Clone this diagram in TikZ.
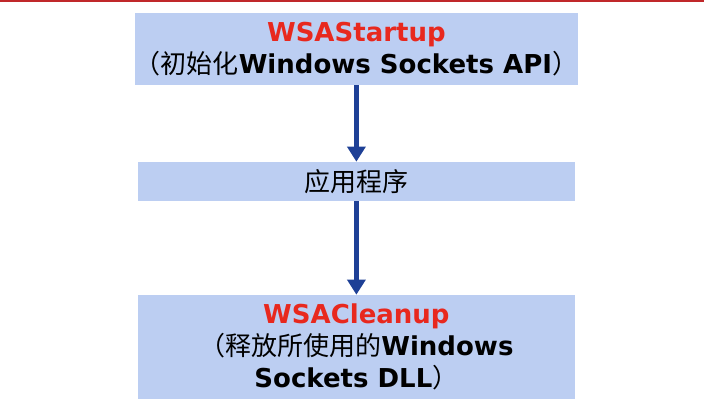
\documentclass[tikz,border=0pt]{standalone}
\usepackage{fontspec}
\setmainfont{DejaVu Sans}
\newfontfamily\cjk{Noto Sans CJK SC}
\usetikzlibrary{arrows.meta}

\definecolor{boxfill}{RGB}{188,206,242}
\definecolor{flowblue}{RGB}{30,64,150}
\definecolor{apired}{RGB}{232,40,30}
\definecolor{slidered}{RGB}{192,40,42}

\begin{document}
\begin{tikzpicture}[
  font=\fontsize{18.5}{22.8}\selectfont,
  >={Triangle[length=0.38cm,width=0.45cm]},
  stage/.style={fill=boxfill, draw=none, align=center, minimum width=10.925cm, inner sep=0pt},
  flow/.style={->, draw=flowblue, line width=4pt}
]
\useasboundingbox (0,0) rectangle (17.6,-10.325);
\fill[slidered] (0,0) rectangle (17.6,-0.05);

\node[stage, minimum height=1.8cm] (init) at (8.91,-1.225)
  {\textcolor{apired}{\bfseries WSAStartup}\\ {\cjk （初始化}\textbf{Windows Sockets API}{\cjk ）}};
\node[stage, minimum height=0.975cm] (app) at (8.91,-4.5375) {\cjk 应用程序};
\node[stage, minimum height=2.6cm] (clean) at (8.91,-8.675)
  {\textcolor{apired}{\bfseries WSACleanup}\\ {\cjk （释放所使用的}\textbf{Windows}\\ \textbf{Sockets DLL}{\cjk ）}};

\draw[flow] (init) -- (app);
\draw[flow] (app) -- (clean);
\end{tikzpicture}
\end{document}
